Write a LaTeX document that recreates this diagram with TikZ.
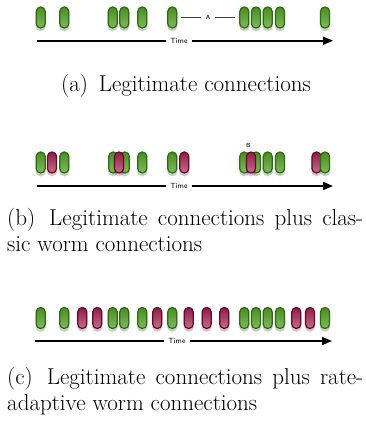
\documentclass[tikz,border=0pt]{standalone}
\usetikzlibrary{shadows,arrows.meta}
\definecolor{gbd}{RGB}{40,110,10}
\definecolor{gtop}{RGB}{75,140,35}
\definecolor{gbot}{RGB}{130,185,95}
\definecolor{rbd}{RGB}{110,5,40}
\definecolor{rtop}{RGB}{140,30,70}
\definecolor{rbot}{RGB}{195,110,140}
\tikzset{
  pill/.style={rectangle, rounded corners=4.4pt, minimum width=9pt, minimum height=21pt, inner sep=0pt, line width=1.2pt,
    drop shadow={opacity=0.2, fill=black, shadow xshift=0pt, shadow yshift=-1.5pt, shadow scale=1.15}},
  gp/.style={pill, draw=gbd, top color=gtop, bottom color=gbot},
  rp/.style={pill, draw=rbd, top color=rtop, bottom color=rbot},
  timeline/.style={line width=1.8pt, -{Triangle[length=10pt,width=8pt]}},
  timelabel/.style={fill=white, inner xsep=4pt, inner ysep=1pt, font=\sffamily\fontsize{7.5}{8}\selectfont},
  tag/.style={inner sep=1pt, font=\sffamily\bfseries\fontsize{6}{7}\selectfont, text=black!80},
  tagline/.style={line width=0.7pt, black!75},
  captext/.style={inner sep=0pt, font=\fontsize{23}{26}\selectfont},
  capj/.style={captext, text width=356pt, align=justify, anchor=north west}
}
\begin{document}
\begin{tikzpicture}[x=1pt,y=-1pt]
\useasboundingbox (0,0) rectangle (365,428);
% ---------- (a)
\foreach \x [count=\i] in {40.7,64.3,112.7,124.3,142.3,172.3,244.3,256,267.7,280,325}
  \node[gp] (a\i) at (\x,17.5) {};
\node[tag] (A) at (208,17.5) {A};
\draw[tagline] ([xshift=4pt]a6.east) -- ([xshift=-4pt]A.west);
\draw[tagline] ([xshift=4pt]A.east) -- ([xshift=-4pt]a7.west);
\coordinate (as) at (36.5,40.7);
\coordinate (ae) at (333,40.7);
\draw[timeline] (as) -- (ae);
\node[timelabel] (at) at (179,40.7) {Time};
\node[captext] (capa) at (186,86) {(a)\, Legitimate connections};
% ---------- (b)
\node[gp] (b1) at (40.7,162.5) {};
\node[rp] (b2) at (52,162.5) {};
\node[gp] (b3) at (64.3,162.5) {};
\node[gp] (b4) at (113.2,162.5) {};
\node[gp] (b5) at (124.8,162.5) {};
\node[rp] (b6) at (119,162.5) {};
\node[gp] (b7) at (142.3,162.5) {};
\node[gp] (b8) at (172.3,162.5) {};
\node[rp] (b9) at (184.3,162.5) {};
\node[gp] (b10) at (244.3,162.5) {};
\node[gp] (b11) at (256,162.5) {};
\node[rp] (b12) at (251,162.5) {};
\node[gp] (b13) at (267.7,162.5) {};
\node[gp] (b14) at (280,162.5) {};
\node[rp] (b15) at (316.5,162.5) {};
\node[gp] (b16) at (325,162.5) {};
\node[tag] (B) at (248.3,145) {B};
\coordinate (bs) at (36.5,186);
\coordinate (be) at (333,186);
\draw[timeline] (bs) -- (be);
\node[timelabel] (bt) at (179,186) {Time};
\node[capj] (capb) at (7,208) {(b)\, Legitimate connections plus clas-\linebreak sic worm connections};
% ---------- (c)
\foreach \x/\s [count=\i] in {40.7/gp,64.3/gp,82.3/rp,97.3/rp,112.7/gp,124.3/gp,142.3/gp,157.3/rp,172.3/gp,188.7/rp,206.7/rp,224.3/rp,244.3/gp,256/gp,267.7/gp,280/gp,296.3/rp,310/rp,325/gp}
  \node[\s] (c\i) at (\x,318) {};
\coordinate (cs) at (35,341);
\coordinate (ce) at (332,341);
\draw[timeline] (cs) -- (ce);
\node[timelabel] (ct) at (177,341) {Time};
\node[capj] (capc) at (7,367) {(c)\, Legitimate connections plus rate-\linebreak adaptive worm connections};
\end{tikzpicture}
\end{document}
